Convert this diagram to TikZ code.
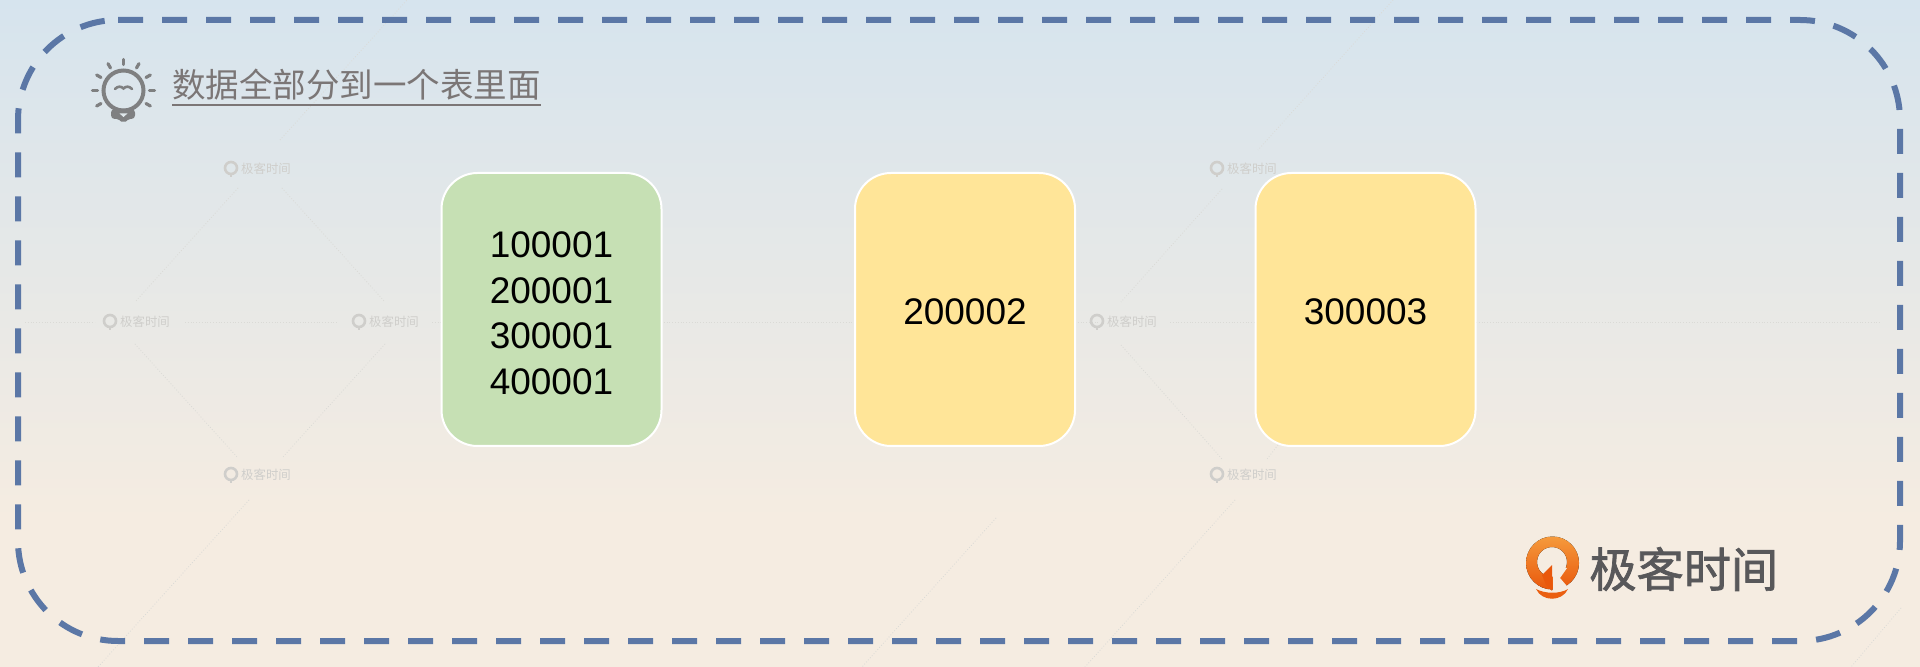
\documentclass[tikz,border=0pt]{standalone}
\usepackage{fontspec}
\setmainfont{Liberation Sans}
\newfontfamily\cjk{Noto Sans CJK SC}
\newfontfamily\logofont[FakeBold=1.5]{Noto Sans CJK SC}
\usetikzlibrary{positioning, calc}
\definecolor{skytop}{HTML}{D6E4EE}
\definecolor{sandbottom}{HTML}{F5ECE1}
\definecolor{framedash}{HTML}{5B77A6}
\definecolor{greenfill}{HTML}{C6E0B4}
\definecolor{yellowfill}{HTML}{FFE598}
\definecolor{titlegrey}{HTML}{7B7676}
\definecolor{bulbgrey}{HTML}{7F8081}
\definecolor{logogrey}{HTML}{58585A}
\definecolor{logolight}{HTML}{F59A3C}
\definecolor{logodark}{HTML}{E9580C}
\definecolor{markgrey}{HTML}{CFCECB}
\definecolor{tracegrey}{HTML}{DADAD6}

\begin{document}
\begin{tikzpicture}[
        x=0.5pt, y=-0.5pt,
        node distance=95.75pt,
        numberbox/.style={
            draw=white,
            line width=1pt,
            rounded corners=18pt,
            minimum width=110pt,
            minimum height=136.5pt,
            inner sep=0pt,
            align=center,
            font=\fontsize{18.5}{22.75}\selectfont,
            execute at begin node={\rule{0pt}{15.5pt}}
        },
        framedashes/.style={draw=framedash, line width=3pt, dash pattern=on 12.5pt off 9.5pt},
        traceline/.style={draw=tracegrey, line width=0.4pt, densely dotted},
        bulbline/.style={draw=bulbgrey, line width=2pt, line cap=round},
        marktext/.style={text=markgrey, inner sep=0pt, font=\cjk\fontsize{6.2}{6.2}\selectfont},
        markicon/.style={draw=markgrey, line width=1.3pt}
    ]
        \fill[top color=skytop, bottom color=sandbottom] (0,0) rectangle (1920,520);
        \fill[sandbottom] (0,520) rectangle (1920,667);
        \useasboundingbox (0,0) rectangle (1920,667);

        \foreach \xa/\ya/\xb/\yb in {
            25/322/95/322, 185/322/338/322, 432/322/442/322, 661/322/855/322,
            1075/322/1100/322, 1170/322/1255/322, 1476/322/1880/322,
            238/188/135/302, 282/188/385/302, 135/344/238/458, 385/344/282/458,
            280/140/407/0, 249/500/98/667, 996/518/862/667,
            1393/0/1258/150, 1222/189/1121/302, 1121/345/1222/459,
            1278/445/1267/459, 1235/500/1085/667, 1901/608/1851/667
        }
            \draw[traceline] (\xa,\ya) -- (\xb,\yb);

        \foreach \mx/\my/\mname in {258/169/marka, 137/322/markb, 386/322/markc, 258/475/markd,
            1244/169/marke, 1124/322/markf, 1244/475/markg}
        {
            \node[marktext] (\mname) at (\mx+8,\my) {极客时间};
            \draw[markicon] (\mx-27,\my-1) circle (6);
            \draw[markicon] (\mx-27,\my+5) -- (\mx-27,\my+8);
        }

        \draw[framedashes, rounded corners=50pt]
            (118,20) -- (1900,20) -- (1900,641) -- (18,641) -- (18,20) -- (118,20);

        \node[numberbox, fill=greenfill] (batchbox) at (551.5,309.5)
            {\rule{0pt}{16.7pt}100001\\200001\\300001\\400001};
        \node[numberbox, fill=yellowfill, right=of batchbox] (secondbox) {200002};
        \node[numberbox, fill=yellowfill, right=89.25pt of secondbox] (thirdbox) {300003};

        \node[anchor=base west, inner sep=0pt, text=titlegrey, font=\cjk\fontsize{16.75}{16.75}\selectfont]
            (titletext) at (172,98) {数据全部分到一个表里面};
        \draw[titlegrey, line width=0.8pt]
            ([yshift=-3.5pt]titletext.base west) -- ([yshift=-3.5pt]titletext.base east);

        \draw[bulbline] (123.5,90.5) circle (20);
        \foreach \rayangle in {30,0,-30,-60,-90,-120,-150,180,150}
            \draw[bulbline, line width=1.6pt]
                ($(123.5,90.5)+(\rayangle:26)$) -- ($(123.5,90.5)+(\rayangle:31)$);
        \draw[bulbline, fill=bulbgrey, rounded corners=1pt]
            (113,111) -- (113,117) -- (119,117) -- (123.5,121) -- (128,117) -- (133,117) -- (133,111) -- cycle;
        \fill[skytop!70!sandbottom] (119.5,113.5) -- (127.5,113.5) -- (123.5,117) -- cycle;
        \draw[bulbline, line width=1.3pt]
            (115,89) .. controls (118,86) and (121,86) .. (123.5,88.5)
            .. controls (126,86) and (129,86) .. (132,89);

        \fill[top color=logolight, bottom color=logodark, even odd rule]
            (1552.5,563) circle (26.5) (1552,562) circle (15);
        \fill[sandbottom] (1553,569) -- (1553,592) -- (1572,592) -- (1560,578) -- (1567,568) -- cycle;
        \fill[logodark] (1552,565) -- (1542,575) -- (1546,585) -- (1552,591) -- cycle;
        \fill[logodark!90!logolight] (1536,589) .. controls (1545,594) and (1560,594) .. (1568,589)
            .. controls (1562,602) and (1542,602) .. (1536,589) -- cycle;

        \node[anchor=west, inner sep=0pt, text=logogrey, font=\logofont\fontsize{23.6}{23.6}\selectfont]
            (logotext) at (1589,569) {极客时间};
    \end{tikzpicture}
\end{document}
